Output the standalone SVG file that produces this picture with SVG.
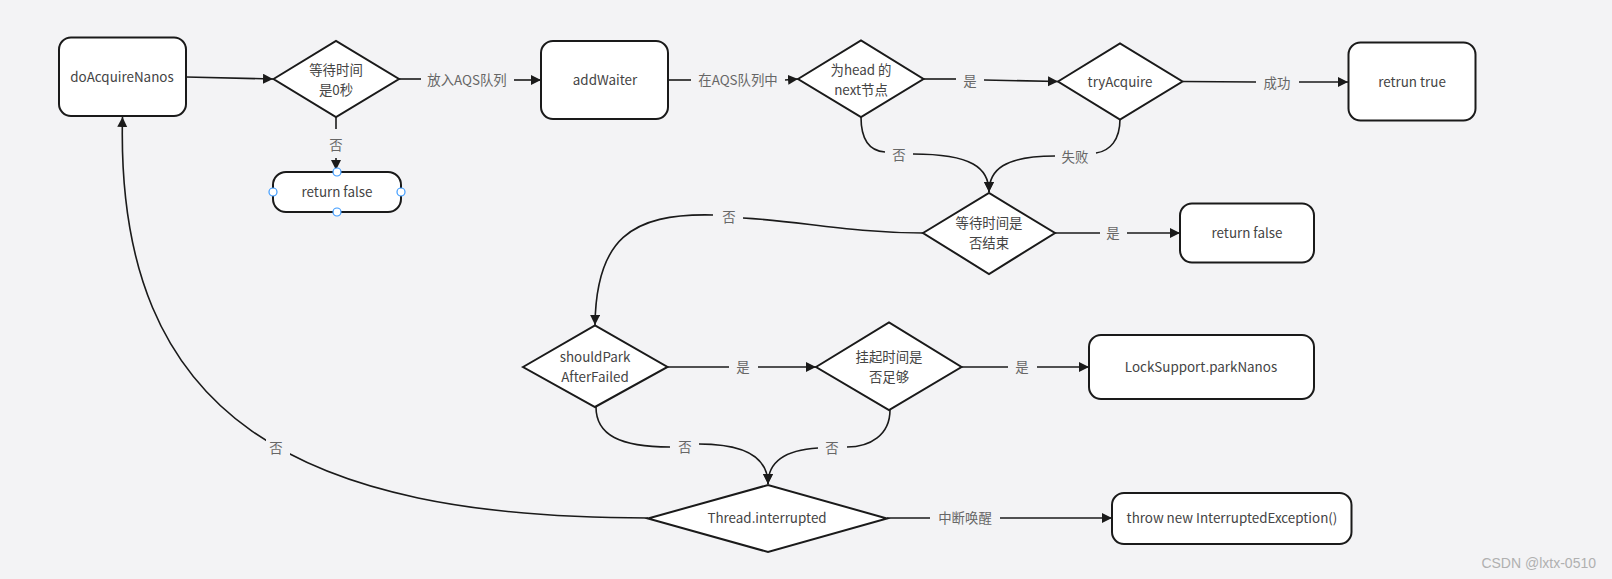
<svg xmlns="http://www.w3.org/2000/svg" width="1612" height="579" viewBox="0 0 1612 579">
<defs>
<marker id="arr" markerUnits="userSpaceOnUse" markerWidth="11" markerHeight="11" refX="10" refY="5" orient="auto">
<path d="M0,0 L10,5 L0,10 z" fill="#1a1a1a"/>
</marker>
<style>
.n{fill:#ffffff;stroke:#1a1a1a;stroke-width:2}
.t{font-family:"Noto Sans CJK SC","Noto Sans",sans-serif;font-size:13.4px;fill:#444444;text-anchor:middle;dominant-baseline:central}
.l{font-family:"Noto Sans CJK SC","Noto Sans",sans-serif;font-size:13.4px;fill:#666666;text-anchor:middle;dominant-baseline:central}
.c{fill:none;stroke:#1a1a1a;stroke-width:1.6}
.a{marker-end:url(#arr)}
.h{fill:#ffffff;stroke:#3d9bff;stroke-width:1.2}
</style>
</defs>
<rect width="1612" height="579" fill="#f3f3f5"/>

<g id="connectors">
<path class="c a" d="M186,77 L273,79"/>
<path class="c" d="M399,79 L421,79"/>
<path class="c a" d="M514,80 L541,80"/>
<path class="c" d="M336,117 L336,129"/>
<path class="c a" d="M336,158 L336,170"/>
<path class="c" d="M668,80 L691,80"/>
<path class="c a" d="M785,80 L798,79"/>
<path class="c" d="M924,79 L956,79"/>
<path class="c a" d="M984,80 L1058,81.5"/>
<path class="c" d="M1183,81.5 L1256,82"/>
<path class="c a" d="M1299,82 L1348,82"/>
<path class="c" d="M861,117 C861,140 870,151 885,152"/>
<path class="c a" d="M913,154 C972,154 989,168 989,192"/>
<path class="c" d="M1120,119 C1120,140 1110,151 1096,153"/>
<path class="c a" d="M1055,156 C1004,156 989,170 989,192"/>
<path class="c" d="M1055,233 L1100,233"/>
<path class="c a" d="M1127,233 L1180,233"/>
<path class="c" d="M923,233 C850,233 800,221 743,218"/>
<path class="c a" d="M713,215 C630,213 596,240 595,325"/>
<path class="c" d="M668,367 L729,367"/>
<path class="c a" d="M758,367 L816,367"/>
<path class="c" d="M962,367 L1008,367"/>
<path class="c a" d="M1037,367 L1089,367"/>
<path class="c" d="M596,407 C596,435 620,447 670,447"/>
<path class="c a" d="M699,444 C750,444 768,460 768,484"/>
<path class="c" d="M890,410 C890,435 870,447 847,447"/>
<path class="c a" d="M818,448 C785,450 768,462 768,484"/>
<path class="c" d="M887,518 L930,518"/>
<path class="c a" d="M1000,518 L1112,518"/>
<path class="c a" d="M648,518 C300,518 115,420 122.5,117"/>
<rect x="266" y="436" width="24" height="24" fill="#f3f3f5"/>
<text class="l" x="467" y="79">放入AQS队列</text>
<text class="l" x="336" y="144">否</text>
<text class="l" x="738" y="79">在AQS队列中</text>
<text class="l" x="970" y="80">是</text>
<text class="l" x="1277" y="82">成功</text>
<text class="l" x="899" y="154">否</text>
<text class="l" x="1075" y="156">失败</text>
<text class="l" x="1113" y="232">是</text>
<text class="l" x="729" y="216">否</text>
<text class="l" x="743" y="366">是</text>
<text class="l" x="1022" y="366">是</text>
<text class="l" x="685" y="446">否</text>
<text class="l" x="832" y="447">否</text>
<text class="l" x="965" y="517">中断唤醒</text>
<text class="l" x="276" y="447">否</text>
</g>

<g id="doAcquireNanos">
<rect class="n" x="59" y="37.5" width="127" height="78.5" rx="12"/>
<text class="t" x="122" y="76">doAcquireNanos</text>
</g>
<g id="waitZero">
<polygon class="n" points="273.5,79 336,41 399,79 336,117"/>
<text class="t" x="336" y="69">等待时间</text>
<text class="t" x="336" y="89">是0秒</text>
</g>
<g id="returnFalse1">
<rect class="n" x="273" y="172" width="128" height="40" rx="13"/>
<text class="t" x="337" y="191">return false</text>
<circle class="h" cx="337" cy="172" r="4"/>
<circle class="h" cx="273" cy="192" r="4"/>
<circle class="h" cx="401" cy="192" r="4"/>
<circle class="h" cx="337" cy="212" r="4"/>
</g>
<g id="addWaiter">
<rect class="n" x="541" y="41" width="127" height="78" rx="12"/>
<text class="t" x="605" y="79">addWaiter</text>
</g>
<g id="isHeadNext">
<polygon class="n" points="798,79 861,40.5 923.5,79 861,117"/>
<text class="t" x="861" y="69">为head 的</text>
<text class="t" x="861" y="89">next节点</text>
</g>
<g id="tryAcquire">
<polygon class="n" points="1058,81.5 1120,43.5 1182.5,81.5 1120,119.5"/>
<text class="t" x="1120" y="81">tryAcquire</text>
</g>
<g id="retrunTrue">
<rect class="n" x="1348.5" y="42.5" width="127" height="78" rx="12"/>
<text class="t" x="1412" y="81">retrun true</text>
</g>
<g id="waitOver">
<polygon class="n" points="923,233 989,193 1055,233 989,274"/>
<text class="t" x="989" y="222">等待时间是</text>
<text class="t" x="989" y="242">否结束</text>
</g>
<g id="returnFalse2">
<rect class="n" x="1180" y="203.5" width="134" height="59" rx="12"/>
<text class="t" x="1247" y="232">return false</text>
</g>
<g id="shouldPark">
<polygon class="n" points="523,367 595,325.5 667.5,367 595,407"/>
<text class="t" x="595" y="356">shouldPark</text>
<text class="t" x="595" y="376">AfterFailed</text>
</g>
<g id="parkEnough">
<polygon class="n" points="816,367 889,322.5 961.5,367 889,410"/>
<text class="t" x="889" y="356">挂起时间是</text>
<text class="t" x="889" y="376">否足够</text>
</g>
<g id="parkNanos">
<rect class="n" x="1089" y="335" width="225" height="64" rx="12"/>
<text class="t" x="1201" y="366">LockSupport.parkNanos</text>
</g>
<g id="interrupted">
<polygon class="n" points="648,518.5 768,485 887,518.5 768,552"/>
<text class="t" x="767" y="517">Thread.interrupted</text>
</g>
<g id="throwEx">
<rect class="n" x="1112" y="493" width="239.5" height="51" rx="12"/>
<text class="t" x="1232" y="517">throw new InterruptedException()</text>
</g>
<text x="1596" y="568" font-family="Liberation Sans, Arial, sans-serif" font-size="14" fill="#b0b0b0" text-anchor="end">CSDN @lxtx-0510</text>
</svg>
